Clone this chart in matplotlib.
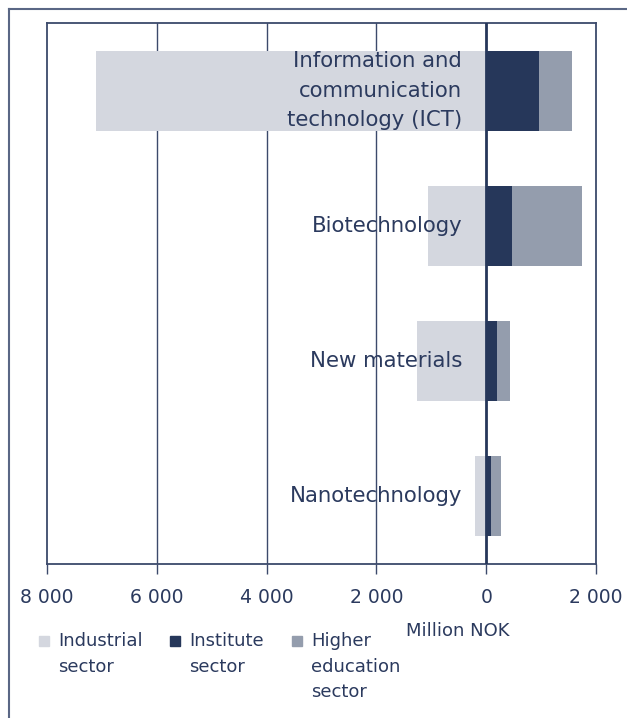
import matplotlib
matplotlib.use("Agg")
import matplotlib.pyplot as plt
from matplotlib.patches import Rectangle
from matplotlib.lines import Line2D

# R&D expenditure by technology area and sector, million NOK
categories = ["Information and\ncommunication\ntechnology (ICT)", "Biotechnology",
              "New materials", "Nanotechnology"]
industrial = [7100, 1055, 1255, 195]
institute = [960, 475, 205, 90]
higher_edu = [610, 1270, 235, 180]

series_names = ["Industrial\nsector", "Institute\nsector", "Higher\neducation\nsector"]
colors = ["#d4d7df", "#26375a", "#949dad"]
text_col = "#2b3a5e"
line_col = "#3c4a6b"

tick_pos = [-8000, -6000, -4000, -2000, 0, 2000]
tick_labels = ["8 000", "6 000", "4 000", "2 000", "0", "2 000"]

fig = plt.figure(figsize=(6.27, 7.18), dpi=100)
ax = fig.add_axes([47 / 627, 1 - 564 / 718, (596 - 47) / 627, (564 - 23) / 718])

y = list(range(len(categories)))
h = 0.59
ax.barh(y, [-v for v in industrial], height=h, color=colors[0], zorder=2)
ax.barh(y, institute, height=h, color=colors[1], zorder=2)
ax.barh(y, higher_edu, left=institute, height=h, color=colors[2], zorder=2)

ax.set_xlim(-8000, 2000)
ax.set_ylim(len(categories) - 0.5, -0.5)
ax.set_yticks([])
ax.set_xticks(tick_pos)
ax.set_xticklabels(tick_labels, fontsize=13.5, color=text_col)
ax.tick_params(axis="x", length=7, width=1, color=line_col, pad=10)

for x in [-6000, -4000, -2000]:
    ax.axvline(x, color=line_col, lw=1, zorder=1)
ax.axvline(0, color="#26375a", lw=2, zorder=4)

for s in ax.spines.values():
    s.set_color(line_col)
    s.set_linewidth(1.3)

for i, name in enumerate(categories):
    ax.annotate(name, xy=(0, i), xytext=(-24, 0), textcoords="offset pixels",
                ha="right", va="center", fontsize=15.3, color=text_col,
                linespacing=1.58, zorder=5)

fig.text(510 / 627, 1 - 631 / 718, "Million NOK", ha="right", va="center",
         fontsize=13, color=text_col)

# legend drawn by hand
sq_x = [39, 170, 292]
for sx, name, c in zip(sq_x, series_names, colors):
    fig.add_artist(Rectangle((sx / 627, 1 - 646 / 718), 10 / 627, 10 / 718,
                             transform=fig.transFigure, color=c))
    fig.text((sx + 19) / 627, 1 - 632 / 718, name, ha="left", va="top",
             fontsize=13, color=text_col, linespacing=1.55)

# outer frame
fig.add_artist(Line2D([9 / 627, 1], [1 - 9 / 718, 1 - 9 / 718],
                      transform=fig.transFigure, color="#5a6785", lw=1.5))
fig.add_artist(Line2D([9 / 627, 9 / 627], [0, 1 - 9 / 718],
                      transform=fig.transFigure, color="#5a6785", lw=1.5))

fig.savefig("out.png", dpi=100)
